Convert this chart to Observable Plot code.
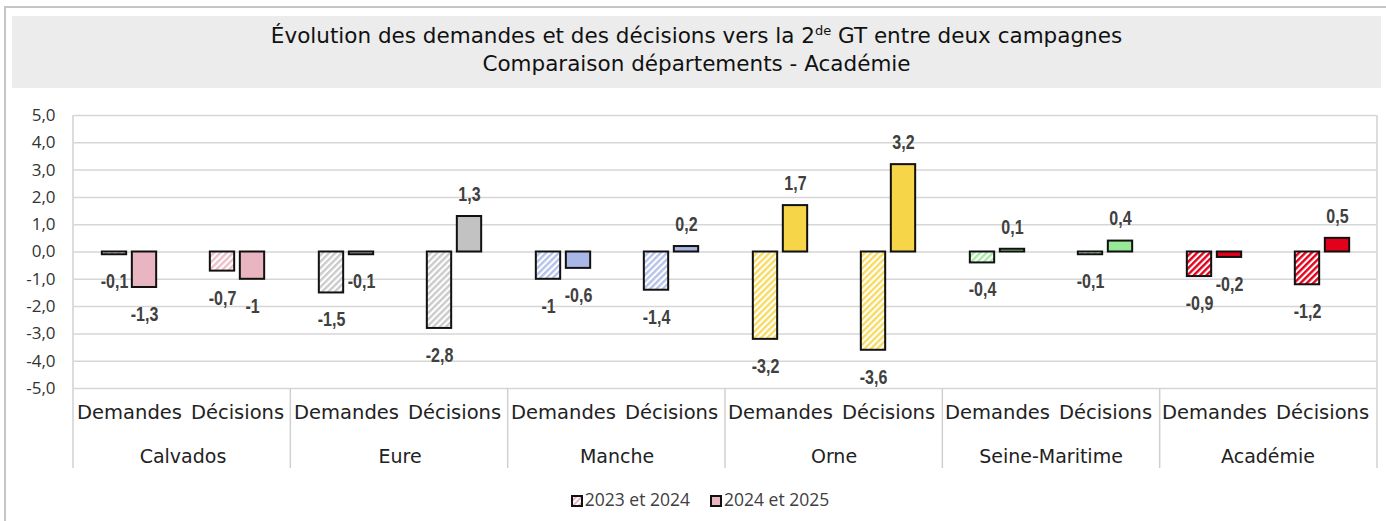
<!DOCTYPE html>
<html><head><meta charset="utf-8">
<script src="https://cdn.jsdelivr.net/npm/d3@7"></script>
<script src="https://cdn.jsdelivr.net/npm/@observablehq/plot@0.6"></script>
<style>
body{margin:0;background:#fff;font-family:"DejaVu Sans",sans-serif;overflow:hidden;}
#frame{position:absolute;left:4px;top:6px;width:1400px;height:540px;border-left:2px solid #c6c6c6;border-top:2px solid #c6c6c6;}
#title{position:absolute;left:12px;top:16px;width:1369px;height:72px;background:#ececec;text-align:center;font-size:21.5px;line-height:28px;color:#111;padding-top:6px;box-sizing:border-box;}
#title sup{font-size:13px;vertical-align:8px;line-height:0;}
#chart{position:absolute;left:0;top:95px;}
#legend{position:absolute;top:487px;left:0;width:1400px;text-align:center;font-family:"Open Sans",sans-serif;font-size:17.5px;color:#404040;}
#legend span.item{margin:0 10px;}
#legend svg{vertical-align:-1px;margin-right:2px;}
</style>
</head><body>
<div id="frame"></div>
<div id="title">Évolution des demandes et des décisions vers la 2<sup>de</sup> GT entre deux campagnes<br>Comparaison départements - Académie</div>
<div id="chart"></div>
<div id="legend"></div>
<script>
// ---- data ----
const departements = ["Calvados", "Eure", "Manche", "Orne", "Seine-Maritime", "Académie"];
const indicateurs = ["Demandes", "Décisions"];
const periodes = ["2023 et 2024", "2024 et 2025"];
const demandes2324 = [-0.1, -1.5, -1, -3.2, -0.4, -0.9];
const demandes2425 = [-1.3, -0.1, -0.6, 1.7, 0.1, -0.2];
const decisions2324 = [-0.7, -2.8, -1.4, -3.6, -0.1, -1.2];
const decisions2425 = [-1, 1.3, 0.2, 3.2, 0.4, 0.5];
const couleurs = ["#e8b5c0", "#c2c2c2", "#a8b7e6", "#f6d548", "#97e897", "#e3001b"];
const yTicks = [5, 4, 3, 2, 1, 0, -1, -2, -3, -4, -5];

const rows = [];
departements.forEach((dep, i) => {
  rows.push({dep, i, ind: "Demandes", per: 0, value: demandes2324[i]});
  rows.push({dep, i, ind: "Demandes", per: 1, value: demandes2425[i]});
  rows.push({dep, i, ind: "Décisions", per: 0, value: decisions2324[i]});
  rows.push({dep, i, ind: "Décisions", per: 1, value: decisions2425[i]});
});

// ---- layout ----
const W = 1386, H = 380, mL = 73, mR = 9, mT = 20, mB = 87;
const bw = (W - mL - mR) / (departements.length * indicateurs.length);
const half = bw / 2;
const barOuter = 27.5, barInner = 2.5;
const fmt = v => String(v).replace(".", ",");
const labelFont = {fontFamily: "'Liberation Sans',Arial,sans-serif", fontWeight: "bold", fontSize: 20, fill: "#404040", className: "barlabel"};

const barMarks = [];
departements.forEach((dep, i) => {
  [0, 1].forEach(p => {
    barMarks.push(Plot.barY(rows.filter(d => d.i === i && d.per === p), {
      fx: "dep", x: "ind", y: "value",
      fill: p === 0 ? `url(#hatch${i})` : couleurs[i],
      stroke: "#111", strokeWidth: 2,
      insetLeft: p === 0 ? half - barOuter : half + barInner,
      insetRight: p === 0 ? half + barInner : half - barOuter
    }));
  });
});
const labelMarks = [];
[0, 1].forEach(p => {
  const dx = p === 0 ? -(barOuter + barInner) / 2 : (barOuter + barInner) / 2;
  labelMarks.push(Plot.text(rows.filter(d => d.per === p && d.value < 0), {
    fx: "dep", x: "ind", y: "value", text: d => fmt(d.value), dx, dy: 27, lineAnchor: "middle", ...labelFont}));
  labelMarks.push(Plot.text(rows.filter(d => d.per === p && d.value >= 0), {
    fx: "dep", x: "ind", y: "value", text: d => fmt(d.value), dx, dy: -22, lineAnchor: "middle", ...labelFont}));
});

const chart = Plot.plot({
  width: W, height: H,
  marginLeft: mL, marginRight: mR, marginTop: mT, marginBottom: mB,
  style: {background: "transparent", overflow: "visible"},
  fx: {domain: departements, padding: 0},
  x: {domain: indicateurs, padding: 0},
  y: {domain: [-5, 5]},
  marks: [
    Plot.gridY(yTicks, {stroke: "#d6d6d6", strokeOpacity: 1, strokeWidth: 1.5}),
    Plot.axisY(yTicks, {tickSize: 0, tickPadding: 19, tickFormat: v => v.toFixed(1).replace(".", ","), label: null,
      fontFamily: "'Open Sans',sans-serif", fontSize: 17, fill: "#333"}),
    Plot.axisX({anchor: "bottom", tickSize: 0, tickPadding: 17, label: null,
      fontFamily: "'DejaVu Sans',sans-serif", fontSize: 19.5, fill: "#222"}),
    Plot.axisFx({anchor: "bottom", tickSize: 0, tickPadding: 61, label: null,
      fontFamily: "'DejaVu Sans',sans-serif", fontSize: 19, fill: "#222"}),
    ...barMarks,
    ...labelMarks
  ]
});

// hatch patterns
const svg = d3.select(chart);
const defs = svg.insert("defs", ":first-child");
couleurs.forEach((c, i) => {
  const light = d3.interpolateRgb(c, "#fff")(i === 5 ? 0.0 : 0.15);
  const pat = defs.append("pattern").attr("id", `hatch${i}`).attr("patternUnits", "userSpaceOnUse")
    .attr("width", 4.5).attr("height", 4.5).attr("patternTransform", "rotate(45)");
  pat.append("rect").attr("width", 4.5).attr("height", 4.5).attr("fill", "#fff");
  pat.append("rect").attr("width", 2.4).attr("height", 4.5).attr("fill", light);
});

// condensed look for the data labels (narrow bold, like Arial Narrow)
svg.selectAll(".barlabel text").each(function() {
  const t = this.getAttribute("transform") || "";
  this.setAttribute("transform", (t + " scale(0.8,1)").trim());
});

// plot-area borders and category separators
const fw = (W - mL - mR) / departements.length;
const bottom = H - mB;
const sep = svg.append("g").attr("stroke", "#d0d0d0").attr("stroke-width", 1.5);
for (let k = 0; k <= departements.length; k++) {
  const x = mL + k * fw;
  const top = (k === 0 || k === departements.length) ? mT : bottom;
  sep.append("line").attr("x1", x).attr("x2", x).attr("y1", top).attr("y2", bottom + 80);
}
document.getElementById("chart").appendChild(chart);

// legend
const lg = document.getElementById("legend");
periodes.forEach((p, j) => {
  const fill = j === 0 ? "url(#lghatch)" : couleurs[0];
  lg.insertAdjacentHTML("beforeend",
    `<span class="item"><svg width="12" height="12">${j === 0 ? `<defs><pattern id="lghatch" patternUnits="userSpaceOnUse" width="4" height="4" patternTransform="rotate(45)"><rect width="4" height="4" fill="#fff"/><rect width="2" height="4" fill="${couleurs[0]}"/></pattern></defs>` : ""}<rect x="1" y="1" width="10" height="10" fill="${fill}" stroke="#111" stroke-width="2"/></svg>${p}</span>`);
});
</script>
</body></html>
